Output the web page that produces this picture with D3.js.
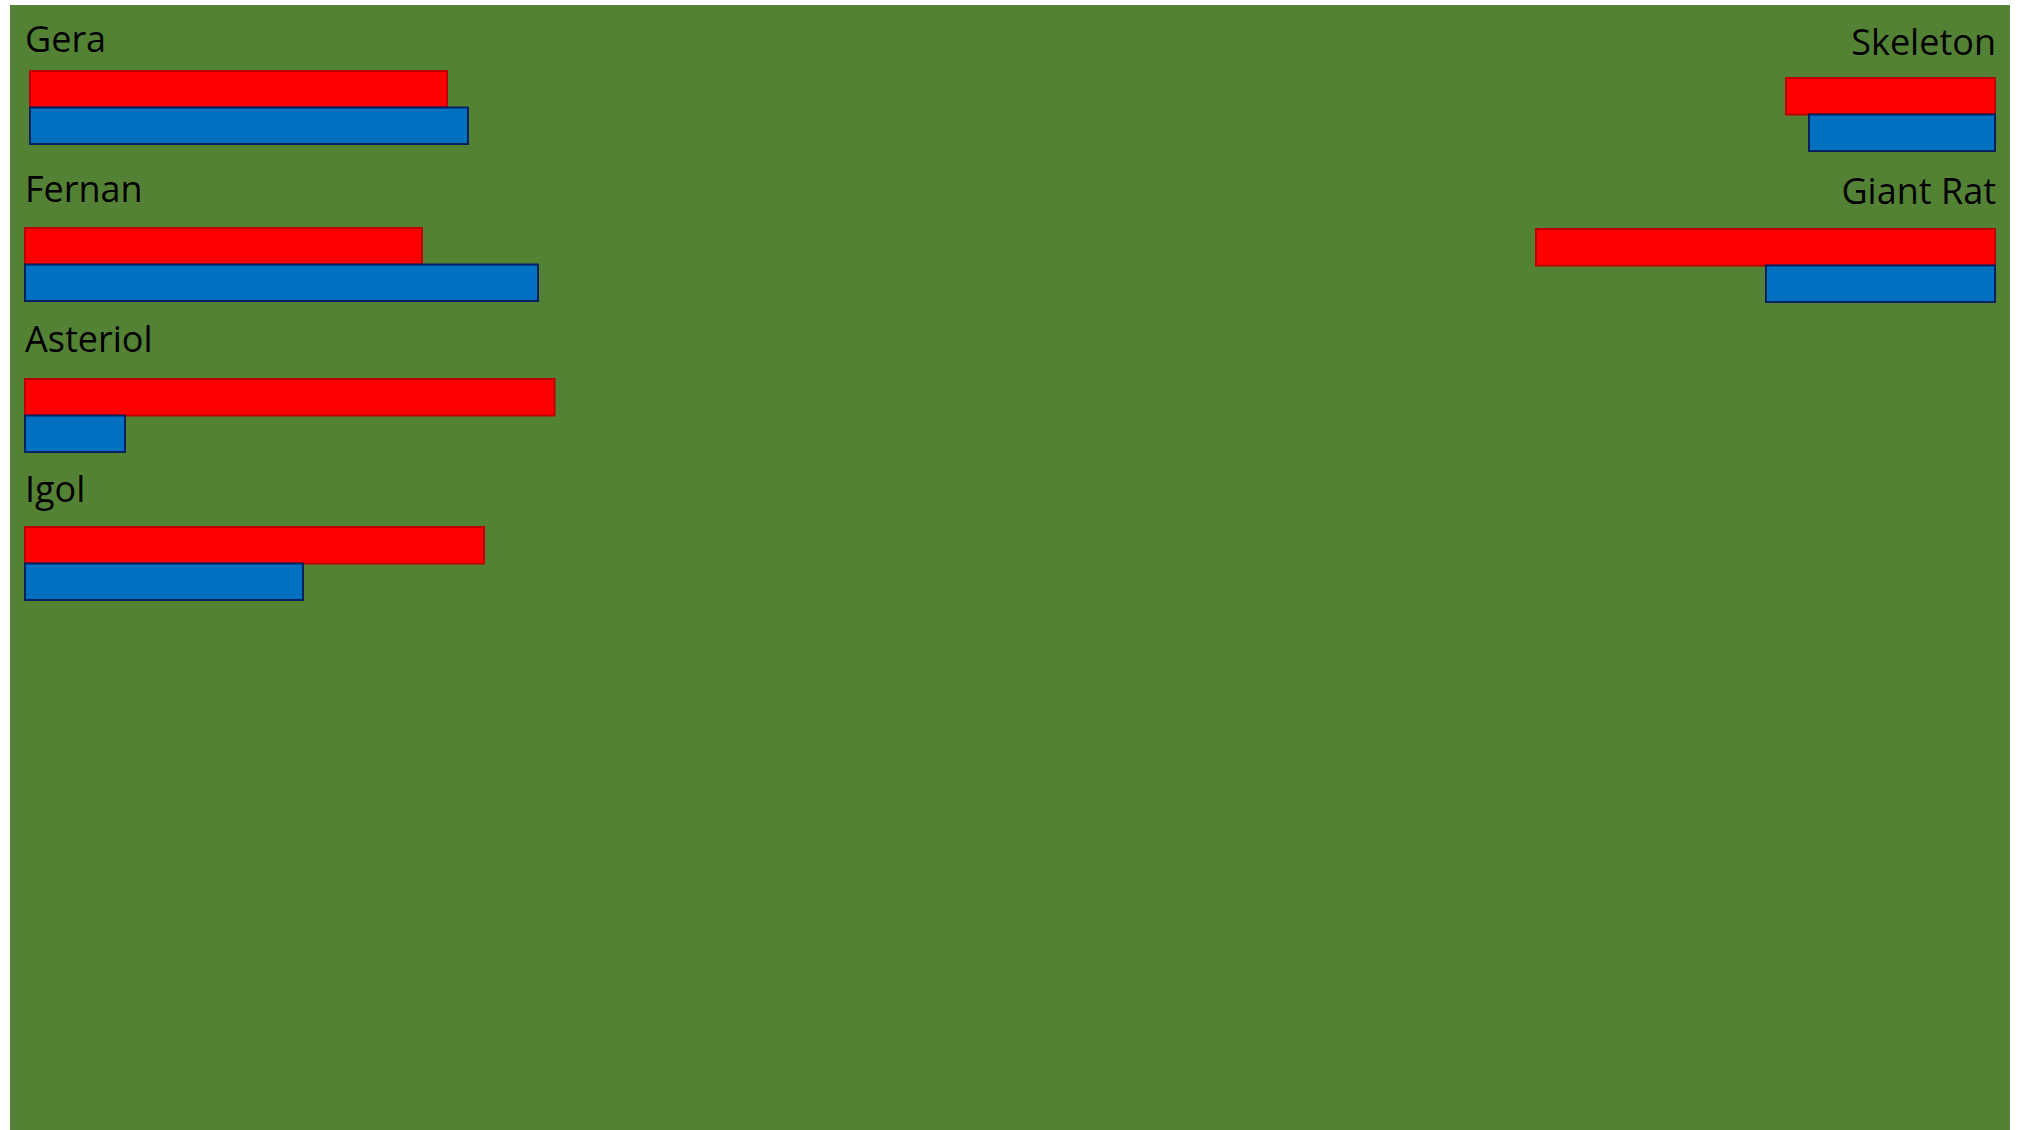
<!DOCTYPE html>
<html>
<head>
<meta charset="utf-8">
<script src="https://cdn.jsdelivr.net/npm/d3@7"></script>
<style>
  html, body { margin: 0; padding: 0; background: #ffffff; }
  svg { display: block; }
</style>
</head>
<body>
<svg id="chart" width="2020" height="1130"></svg>
<script>
// ---- data ----
const leftNames = ["Gera", "Fernan", "Asteriol", "Igol"];
const leftRed   = [83.4, 79.4, 105.9, 91.8];
const leftBlue  = [87.6, 102.6, 20.0, 55.6];

const rightNames = ["Skeleton", "Giant Rat"];
const rightRed   = [41.8, 91.8];
const rightBlue  = [37.2, 45.8];

// ---- layout ----
const W = 2020, H = 1130;
const svg = d3.select("#chart");
const green = "#548235";
const redFill = "#FF0000", redStroke = "#C00000";
const blueFill = "#0070C0", blueStroke = "#002060";
const fontFamily = "'Open Sans', 'Noto Sans', sans-serif";
const fontSize = 36;
const barH = 36.5;

svg.append("rect").attr("x", 10).attr("y", 5).attr("width", 2000).attr("height", H - 5).attr("fill", green);

const len = d3.scaleLinear().domain([0, 100]).range([0, 500]);

// label baselines on a point scale
const yLeft = d3.scalePoint().domain(leftNames).range([52, 502]);
const yRight = d3.scalePoint().domain(rightNames).range([55, 204]);

// per-group fine adjustments (layout only)
const leftBarX = [30, 25, 25, 25];
const leftBarDy = [19, 26, 27, 25];
const rightBarDy = [23, 25];
const rightEdge = 1995;

const gl = svg.append("g");
leftNames.forEach((name, i) => {
  const base = yLeft(name);
  gl.append("text")
    .attr("x", 25).attr("y", base)
    .attr("font-family", fontFamily).attr("font-size", fontSize)
    .attr("fill", "#000").text(name);
  const top = base + leftBarDy[i];
  gl.append("rect")
    .attr("x", leftBarX[i]).attr("y", top)
    .attr("width", len(leftRed[i])).attr("height", barH)
    .attr("fill", redFill).attr("stroke", redStroke).attr("stroke-width", 2);
  gl.append("rect")
    .attr("x", leftBarX[i]).attr("y", top + barH)
    .attr("width", len(leftBlue[i])).attr("height", barH)
    .attr("fill", blueFill).attr("stroke", blueStroke).attr("stroke-width", 2);
});

const gr = svg.append("g");
rightNames.forEach((name, i) => {
  const base = yRight(name);
  gr.append("text")
    .attr("x", 1996).attr("y", base)
    .attr("text-anchor", "end")
    .attr("font-family", fontFamily).attr("font-size", fontSize)
    .attr("fill", "#000").text(name);
  const top = base + rightBarDy[i];
  gr.append("rect")
    .attr("x", rightEdge - len(rightRed[i])).attr("y", top)
    .attr("width", len(rightRed[i])).attr("height", barH)
    .attr("fill", redFill).attr("stroke", redStroke).attr("stroke-width", 2);
  gr.append("rect")
    .attr("x", rightEdge - len(rightBlue[i])).attr("y", top + barH)
    .attr("width", len(rightBlue[i])).attr("height", barH)
    .attr("fill", blueFill).attr("stroke", blueStroke).attr("stroke-width", 2);
});
</script>
</body>
</html>
